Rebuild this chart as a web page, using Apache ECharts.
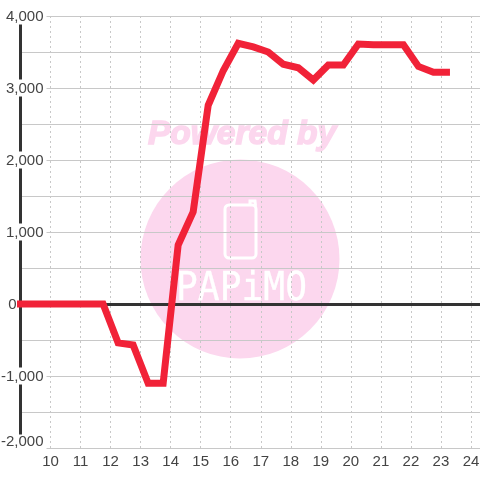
<!DOCTYPE html>
<html><head><meta charset="utf-8">
<style>html,body{margin:0;padding:0;background:#fff}#c{width:480px;height:480px}</style>
<script src="https://cdn.jsdelivr.net/npm/echarts@6/dist/echarts.min.js"></script>
</head><body><div id="c"></div>
<script>
const hours=[8.88,9.5,10,10.5,11,11.5,11.75,12.25,12.75,13.25,13.75,14.25,14.75,15.25,15.75,16.25,16.75,17.25,17.75,18.25,18.75,19.25,19.75,20.25,20.75,21.25,21.75,22.25,22.75,23.3];
const values=[0,0,0,0,0,0,0,-540,-570,-1100,-1100,820,1280,2760,3240,3620,3570,3500,3330,3280,3110,3320,3320,3610,3600,3600,3600,3300,3220,3220];
const xMin=9,xMax=24.3,yMin=-2000,yMax=4000;
const chart=echarts.init(document.getElementById('c'),null,{renderer:'canvas'});
const grey='#c8c8c8',dark='#333333',pink='#fcd7ee';
const labelFont={fontSize:15,color:'#444',fontFamily:'"Liberation Sans"'};
chart.setOption({
 animation:false,
 backgroundColor:'#fff',
 grid:{left:20.5,right:0,top:16,bottom:32,containLabel:false,outerBoundsMode:'none'},
 graphic:{elements:[
  {type:'circle',z:-10,silent:true,shape:{cx:240,cy:259,r:99.5},style:{fill:pink}},
  {type:'text',z:-9,silent:true,x:242,y:135,style:{text:'Powered by',fill:pink,font:'italic bold 33.5px "Liberation Sans"',textAlign:'center',textVerticalAlign:'middle',stroke:pink,lineWidth:1.5}},
  {type:'rect',z:-9,silent:true,shape:{x:225,y:205,width:31,height:53,r:4},style:{fill:'none',stroke:'#ffffff',lineWidth:3}},
  {type:'polyline',z:-9,silent:true,shape:{points:[[250,205],[250,201],[255,201],[255.5,206]]},style:{fill:'none',stroke:'#ffffff',lineWidth:3}},
  {type:'text',z:-9,silent:true,x:241.5,y:290,scaleX:0.93,style:{text:'PAPiMO',fill:'#ffffff',stroke:'#ffffff',lineWidth:0.3,font:'39px "DejaVu Sans Mono"',textAlign:'center',textVerticalAlign:'middle'}}
 ]},
 xAxis:[{type:'value',position:'bottom',min:xMin,max:xMax,interval:1,
  axisLine:{onZero:false,show:true,lineStyle:{color:grey,width:1}},axisTick:{show:false},
  axisLabel:{color:'#444',fontSize:15,fontFamily:'"Liberation Sans"',margin:6,
    showMinLabel:false,showMaxLabel:false,formatter:v=>Number.isInteger(v)?String(v):''},
  splitLine:{show:true,lineStyle:{color:'#c8c8c8',type:[2,3],width:1}}},
  {type:'value',position:'bottom',min:xMin,max:xMax,interval:1,
  axisLine:{onZero:true,show:true,lineStyle:{color:dark,width:3}},axisTick:{show:false},axisLabel:{show:false},splitLine:{show:false}}],
 yAxis:{type:'value',min:yMin,max:yMax,interval:500,position:'left',
  axisLine:{show:true,onZero:false,lineStyle:{color:dark,width:3}},axisTick:{show:false},
  axisLabel:{...labelFont,margin:-26,align:'right',
    formatter:v=>v===0?'{z|0}':(v===yMin?'{b|'+v.toLocaleString('en-US')+'}':(v%1000===0?'{a|'+v.toLocaleString('en-US')+'}':'')),
    rich:{a:{...labelFont,backgroundColor:'#fff',padding:[2,3,0,4]},
          b:{...labelFont,backgroundColor:'#fff',padding:[0,3,12,4]},
          z:{...labelFont,padding:[2,30,0,0]}}},
  splitLine:{show:true,lineStyle:{color:grey,width:1}}},
 series:[{type:'line',data:hours.map((h,i)=>[h,values[i]]),showSymbol:false,symbol:'none',clip:false,
  lineStyle:{color:'#f12238',width:7,cap:'butt',join:'miter'},z:5}]
});
</script></body></html>
